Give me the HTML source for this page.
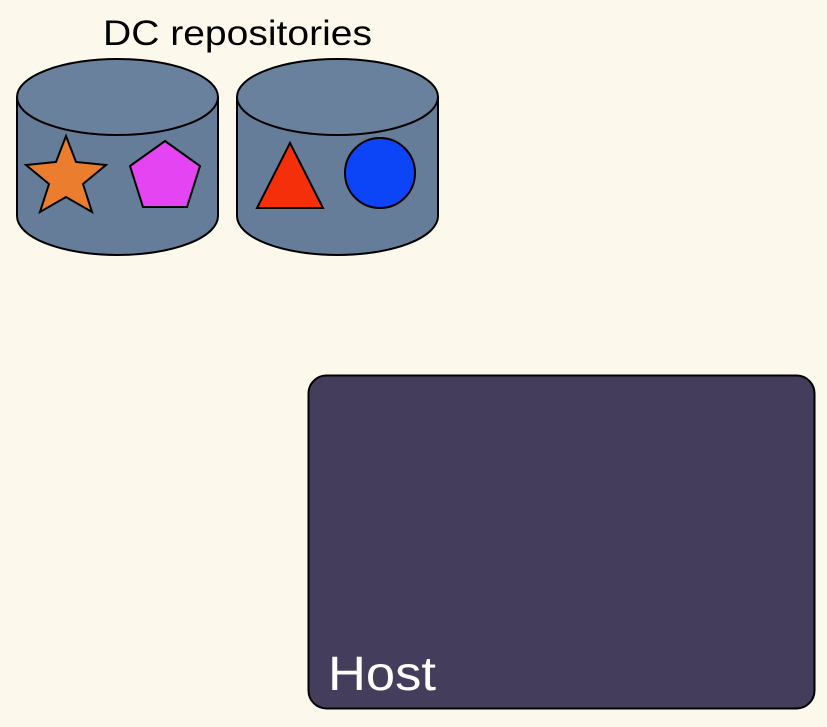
<!DOCTYPE html>
<html><head><meta charset="utf-8"><style>
html,body{margin:0;padding:0;background:#fdf8ec;}
svg{display:block;}
</style></head><body>
<svg width="827" height="727" viewBox="0 0 827 727">
<rect width="827" height="727" fill="#fdf8ec"/>
<text x="103" y="45" textLength="269" lengthAdjust="spacingAndGlyphs" font-family="Liberation Sans, sans-serif" font-size="35" fill="#000">DC repositories</text>
<g stroke="#000" stroke-width="2">
<path d="M17,97 L17,216 A100.5,39 0 0 0 218,216 L218,97" fill="#667d99"/>
<ellipse cx="117.5" cy="97" rx="100.5" ry="38" fill="#6a819d"/>
</g>
<g stroke="#000" stroke-width="2">
<path d="M237,97 L237,216 A100.5,39 0 0 0 438,216 L438,97" fill="#667d99"/>
<ellipse cx="337.5" cy="97" rx="100.5" ry="38" fill="#6a819d"/>
</g>
<polygon points="66,136 76,162 106,165 83,184 92,212 66,197 40,212 49,184 26,165 56,162" fill="#ea7d2e" stroke="#000" stroke-width="2"/>
<polygon points="165,141 200,166 187,207 143,207 130,166" fill="#e444f1" stroke="#000" stroke-width="2"/>
<polygon points="290,143 323,208 257,208" fill="#f52f0a" stroke="#000" stroke-width="2"/>
<circle cx="380" cy="173" r="35" fill="#0c44f8" stroke="#000" stroke-width="2"/>
<rect x="308.5" y="375.5" width="506" height="333" rx="18" fill="#453d5c" stroke="#000" stroke-width="2"/>
<text x="328" y="690" textLength="108" lengthAdjust="spacingAndGlyphs" font-family="Liberation Sans, sans-serif" font-size="48" fill="#fff">Host</text>
</svg>
</body></html>
